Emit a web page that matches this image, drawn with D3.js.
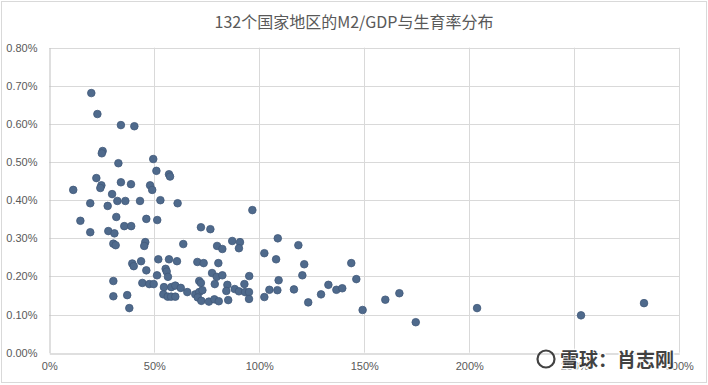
<!DOCTYPE html>
<html lang="zh">
<head>
<meta charset="UTF-8">
<title>M2/GDP与生育率分布</title>
<script src="https://d3js.org/d3.v7.min.js"></script>
<style>
    body { margin: 0; background: #fff; }
    svg { display: block; font-family: "Noto Sans CJK SC", "Noto Sans", sans-serif; }
    .tick text { fill: #595959; font-size: 11px; }
    .grid line { stroke: #d9d9d9; }
</style>
</head>
<body>
<svg width="708" height="385"></svg>
<script>
// M2/GDP (%) for each country / region
const m2gdp = [
    20.0, 22.9, 34.1, 40.5, 25.4, 25.0, 32.9, 49.5, 51.0, 57.0,
    57.5, 22.4, 11.4, 24.8, 24.3, 34.1, 38.9, 48.0, 49.0, 29.9,
    32.4, 36.2, 43.2, 52.9, 19.5, 27.8, 61.1, 14.8, 31.9, 46.2,
    51.4, 19.5, 28.1, 31.0, 35.7, 39.0, 30.5, 31.6, 45.7, 45.2,
    39.5, 40.2, 43.7, 51.9, 57.0, 60.8, 46.2, 55.4, 55.9, 56.5,
    51.3, 30.5, 44.3, 47.6, 49.7, 54.6, 58.1, 60.0, 54.3, 56.4,
    58.0, 60.0, 30.5, 37.1, 38.1, 96.7, 72.2, 76.7, 63.8, 87.1,
    90.8, 90.3, 79.9, 82.4, 102.4, 70.5, 73.5, 80.5, 77.5, 79.7,
    82.4, 95.2, 71.4, 72.2, 78.8, 84.8, 92.9, 62.6, 65.7, 69.5,
    71.4, 72.9, 88.3, 90.3, 93.2, 95.1, 84.3, 70.7, 72.4, 76.0,
    78.6, 80.7, 85.2, 95.1, 102.4, 104.8, 108.8, 118.6, 108.0, 121.4,
    143.8, 109.2, 120.5, 146.2, 132.9, 108.6, 116.5, 136.7, 139.5, 129.4,
    123.3, 149.2, 160.0, 166.7, 174.5, 203.7, 253.2, 283.2
];
// 生育率 (%)
const fertility = [
    0.681, 0.626, 0.597, 0.594, 0.529, 0.523, 0.497, 0.508, 0.477, 0.468,
    0.462, 0.458, 0.427, 0.439, 0.432, 0.447, 0.442, 0.439, 0.427, 0.416,
    0.398, 0.398, 0.398, 0.400, 0.392, 0.385, 0.392, 0.346, 0.356, 0.351,
    0.348, 0.316, 0.319, 0.313, 0.332, 0.332, 0.286, 0.282, 0.290, 0.280,
    0.234, 0.227, 0.240, 0.245, 0.245, 0.240, 0.216, 0.220, 0.213, 0.199,
    0.203, 0.188, 0.183, 0.180, 0.180, 0.172, 0.172, 0.176, 0.153, 0.147,
    0.147, 0.147, 0.148, 0.151, 0.117, 0.374, 0.329, 0.324, 0.285, 0.293,
    0.290, 0.274, 0.280, 0.272, 0.261, 0.238, 0.235, 0.235, 0.209, 0.199,
    0.203, 0.201, 0.188, 0.183, 0.180, 0.178, 0.180, 0.170, 0.159, 0.153,
    0.159, 0.164, 0.167, 0.161, 0.159, 0.159, 0.162, 0.145, 0.136, 0.134,
    0.140, 0.135, 0.138, 0.141, 0.146, 0.165, 0.300, 0.282, 0.245, 0.232,
    0.235, 0.190, 0.203, 0.193, 0.178, 0.164, 0.166, 0.165, 0.169, 0.153,
    0.132, 0.112, 0.139, 0.156, 0.080, 0.117, 0.098, 0.130
];
const xTicks = [0, 50, 100, 150, 200, 250, 300];
const yTicks = [0, 0.1, 0.2, 0.3, 0.4, 0.5, 0.6, 0.7, 0.8];
const title = "132个国家地区的M2/GDP与生育率分布";

const svg = d3.select("svg");
const margin = { left: 49.3, right: 28.7, top: 47.7, bottom: 32.3 };
const W = 708, H = 385;

svg.append("rect")
    .attr("x", 1.5).attr("y", 1.5)
    .attr("width", W - 3).attr("height", H - 4)
    .attr("fill", "#fff").attr("stroke", "#d9d9d9");

const x = d3.scaleLinear().domain([0, 300]).range([margin.left, W - margin.right]);
const y = d3.scaleLinear().domain([0, 0.8]).range([H - margin.bottom, margin.top]);

// gridlines
svg.append("g").attr("class", "grid")
    .selectAll("line").data(yTicks.slice(1)).join("line")
    .attr("x1", x(0)).attr("x2", x(300))
    .attr("y1", d => Math.round(y(d)) + 0.5).attr("y2", d => Math.round(y(d)) + 0.5);
svg.append("g").attr("class", "grid")
    .selectAll("line").data(xTicks.slice(1)).join("line")
    .attr("y1", y(0)).attr("y2", y(0.8))
    .attr("x1", d => Math.round(x(d)) + 0.5).attr("x2", d => Math.round(x(d)) + 0.5);

// axes
const xAxis = svg.append("g")
    .attr("transform", `translate(0,${Math.round(y(0)) + 0.5})`)
    .call(d3.axisBottom(x).tickValues(xTicks).tickFormat(d => d + "%").tickSize(0).tickPadding(9));
xAxis.select(".domain").attr("stroke", "#bfbfbf");

const yAxis = svg.append("g")
    .attr("transform", `translate(${Math.round(x(0)) + 0.5},0)`)
    .call(d3.axisLeft(y).tickValues(yTicks).tickFormat(d => d3.format(".2f")(d) + "%").tickSize(0).tickPadding(12));
yAxis.select(".domain").attr("stroke", "#bfbfbf");

// points
svg.append("g")
    .selectAll("circle").data(m2gdp.map((v, i) => [v, fertility[i]])).join("circle")
    .attr("cx", d => x(d[0]))
    .attr("cy", d => y(d[1]))
    .attr("r", 3.8)
    .attr("fill", "#4f6a8c")
    .attr("stroke", "#41597a")
    .attr("stroke-width", 0.8);

// title
svg.append("text")
    .attr("x", 354).attr("y", 28)
    .attr("text-anchor", "middle")
    .attr("fill", "#595959")
    .style("font-size", "16px")
    .text(title);

// watermark
const wm = svg.append("g").attr("opacity", 0.85);
wm.append("circle").attr("cx", 546).attr("cy", 359).attr("r", 8.5)
    .attr("fill", "none").attr("stroke", "#222").attr("stroke-width", 2.2);
wm.append("text")
    .attr("x", 560).attr("y", 367)
    .attr("fill", "#222")
    .attr("stroke", "#fff").attr("stroke-width", 3).attr("paint-order", "stroke")
    .style("font-size", "19px").style("font-weight", "bold")
    .text("雪球：肖志刚");
</script>
</body>
</html>
